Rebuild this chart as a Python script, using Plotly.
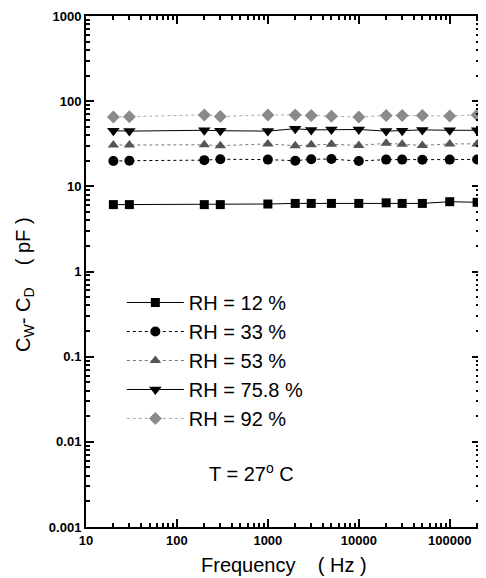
import plotly.graph_objects as go

freq = [20, 30, 200, 300, 1000, 2000, 3000, 5000, 10000, 20000, 30000, 50000, 100000, 200000]
rh12 = [6.1, 6.1, 6.1, 6.1, 6.2, 6.3, 6.3, 6.3, 6.3, 6.4, 6.3, 6.3, 6.6, 6.5]
rh33 = [19.8, 20.0, 20.3, 20.8, 20.6, 20.0, 20.8, 20.9, 19.8, 20.6, 20.6, 20.5, 20.6, 20.7]
rh53 = [30.5, 30.5, 30.8, 30.0, 31.5, 30.0, 30.8, 31.2, 30.2, 32.0, 31.2, 30.2, 31.5, 31.5]
rh758 = [45.0, 44.5, 45.5, 45.0, 44.5, 47.5, 46.0, 46.5, 46.5, 44.5, 45.0, 46.0, 45.5, 45.5]
rh92 = [65.0, 65.5, 69.0, 66.0, 69.0, 69.0, 68.0, 66.5, 65.0, 68.0, 68.0, 68.0, 67.0, 69.0]

series = [
    ("RH = 12 %", rh12, "square", "black", "solid", "black", 9),
    ("RH = 33 %", rh33, "circle", "black", "dot", "black", 10),
    ("RH = 53 %", rh53, "triangle-up", "#555555", "dot", "#777777", 10),
    ("RH = 75.8 %", rh758, "triangle-down", "black", "solid", "black", 11),
    ("RH = 92 %", rh92, "diamond", "#8a8a8a", "dot", "#aaaaaa", 10),
]

x_tickvals = [10, 100, 1000, 10000, 100000]
x_ticktext = ["10", "100", "1000", "10000", "100000"]
y_tickvals = [0.001, 0.01, 0.1, 1, 10, 100, 1000]
y_ticktext = ["0.001", "0.01", "0.1", "1", "10", "100", "1000"]

fig = go.Figure()
for name, ys, sym, mcol, dash, lcol, msize in series:
    fig.add_trace(go.Scatter(
        x=freq, y=ys, name=name, mode="lines+markers",
        marker=dict(symbol=sym, color=mcol, size=msize),
        line=dict(color=lcol, width=1, dash=dash),
    ))

font = "Liberation Sans, Arial, sans-serif"
axis_common = dict(
    type="log", showgrid=False, zeroline=False, automargin=False,
    showline=True, linecolor="black", linewidth=2, mirror="ticks",
    ticks="inside", ticklen=8, tickwidth=2, tickcolor="black",
    minor=dict(ticks="inside", ticklen=4, tickwidth=1.5, tickcolor="black", dtick="D1", showgrid=False),
    tickfont=dict(family=font, size=13, color="black", weight="bold"),
)

fig.update_xaxes(**axis_common, range=[1, 5.333], tickvals=x_tickvals, ticktext=x_ticktext)
fig.update_yaxes(**axis_common, range=[-3, 3], tickvals=y_tickvals, ticktext=y_ticktext)

fig.add_annotation(
    x=0.419, y=0.1076, xref="paper", yref="paper", xanchor="center", yanchor="middle",
    text="T = 27<sup>o</sup> C", showarrow=False,
    font=dict(family=font, size=20, color="black"),
)
fig.add_annotation(
    x=0.502, y=-0.0744, xref="paper", yref="paper", xanchor="center", yanchor="middle",
    text="Frequency    ( Hz )", showarrow=False,
    font=dict(family=font, size=20, color="black"),
)
fig.add_annotation(
    x=-0.155, y=0.4736, xref="paper", yref="paper", xanchor="center", yanchor="middle",
    textangle=-90,
    text="C<sub>W</sub>- C<sub>D</sub>    ( pF )", showarrow=False,
    font=dict(family=font, size=20, color="black"),
)

# page body has an 8px margin, so the figure is offset by 8px
fig.update_layout(
    width=478, height=570,
    margin=dict(l=78, r=6, t=8, b=51),
    paper_bgcolor="white", plot_bgcolor="white",
    showlegend=True,
    legend=dict(
        x=0.091, y=0.4775, xanchor="left", yanchor="top",
        font=dict(family=font, size=20, color="black"),
        bgcolor="rgba(0,0,0,0)", itemwidth=57, tracegroupgap=0,
    ),
)

fig.write_html("out.html")
